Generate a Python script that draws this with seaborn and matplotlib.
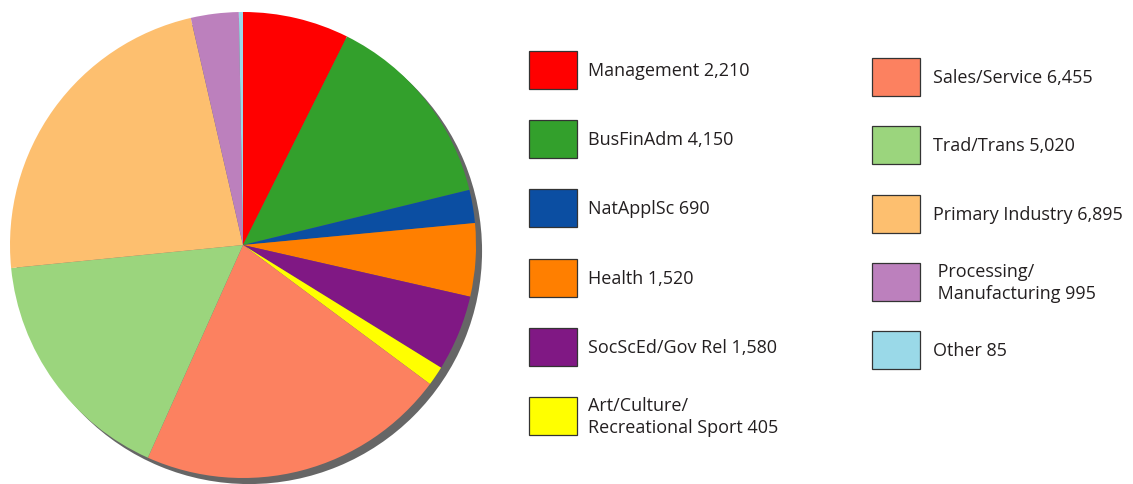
import matplotlib
matplotlib.use("Agg")
import matplotlib.pyplot as plt
import seaborn as sns
from matplotlib.patches import Rectangle

# occupation groups, clockwise from 12 o'clock
labels = ["Management", "BusFinAdm", "NatApplSc", "Health", "SocScEd/Gov Rel",
          "Art/Culture/\nRecreational Sport", "Sales/Service", "Trad/Trans",
          "Primary Industry", " Processing/\n Manufacturing", "Other"]
values = [2210, 4150, 690, 1520, 1580, 405, 6455, 5020, 6895, 995, 85]
colors = ["#FF0000", "#33A02C", "#0B4EA2", "#FF7F00", "#801884", "#FFFF00",
          "#FC8160", "#9BD57D", "#FDBF6F", "#BC80BD", "#9AD9E8"]

sns.set_theme(style="white")
plt.rcParams['font.family'] = ['Open Sans', 'DejaVu Sans']

W, H = 1133, 485
fig = plt.figure(figsize=(W / 100, H / 100), dpi=100)

# pie axes: centre (243, 246) px, radius ~233 px
R = 233
cx, cy = 243, H - 246
half = R * 1.05
ax = fig.add_axes([(cx - half) / W, (cy - half) / H, 2 * half / W, 2 * half / H])

# drop shadow
ax.pie([1], colors=["#666666"], radius=1, center=(0.026, -0.026),
       wedgeprops=dict(linewidth=0))
ax.pie(values, colors=colors, startangle=90, counterclock=False, radius=1,
       wedgeprops=dict(linewidth=0))
ax.set_xlim(-1.05, 1.05)
ax.set_ylim(-1.05, 1.05)
ax.set_aspect("equal")
ax.axis("off")

# legend, two columns built by hand
cols = [dict(x=529, top=52, step=69.2, tx=588, idx=range(0, 6)),
        dict(x=872, top=59, step=68.3, tx=933, idx=range(6, 11))]
pw, ph = 48, 38
for c in cols:
    for k, i in enumerate(c["idx"]):
        top = c["top"] + k * c["step"]
        fig.add_artist(Rectangle((c["x"] / W, (H - top - ph) / H), pw / W, ph / H,
                                 transform=fig.transFigure, facecolor=colors[i],
                                 edgecolor="#333333", linewidth=0.9))
        fig.text(c["tx"] / W, (H - top - ph / 2) / H, f"{labels[i]} {values[i]:,}",
                 ha="left", va="center", fontsize=13, color="#231F20",
                 linespacing=1.25)

fig.savefig("out.png", dpi=100)
